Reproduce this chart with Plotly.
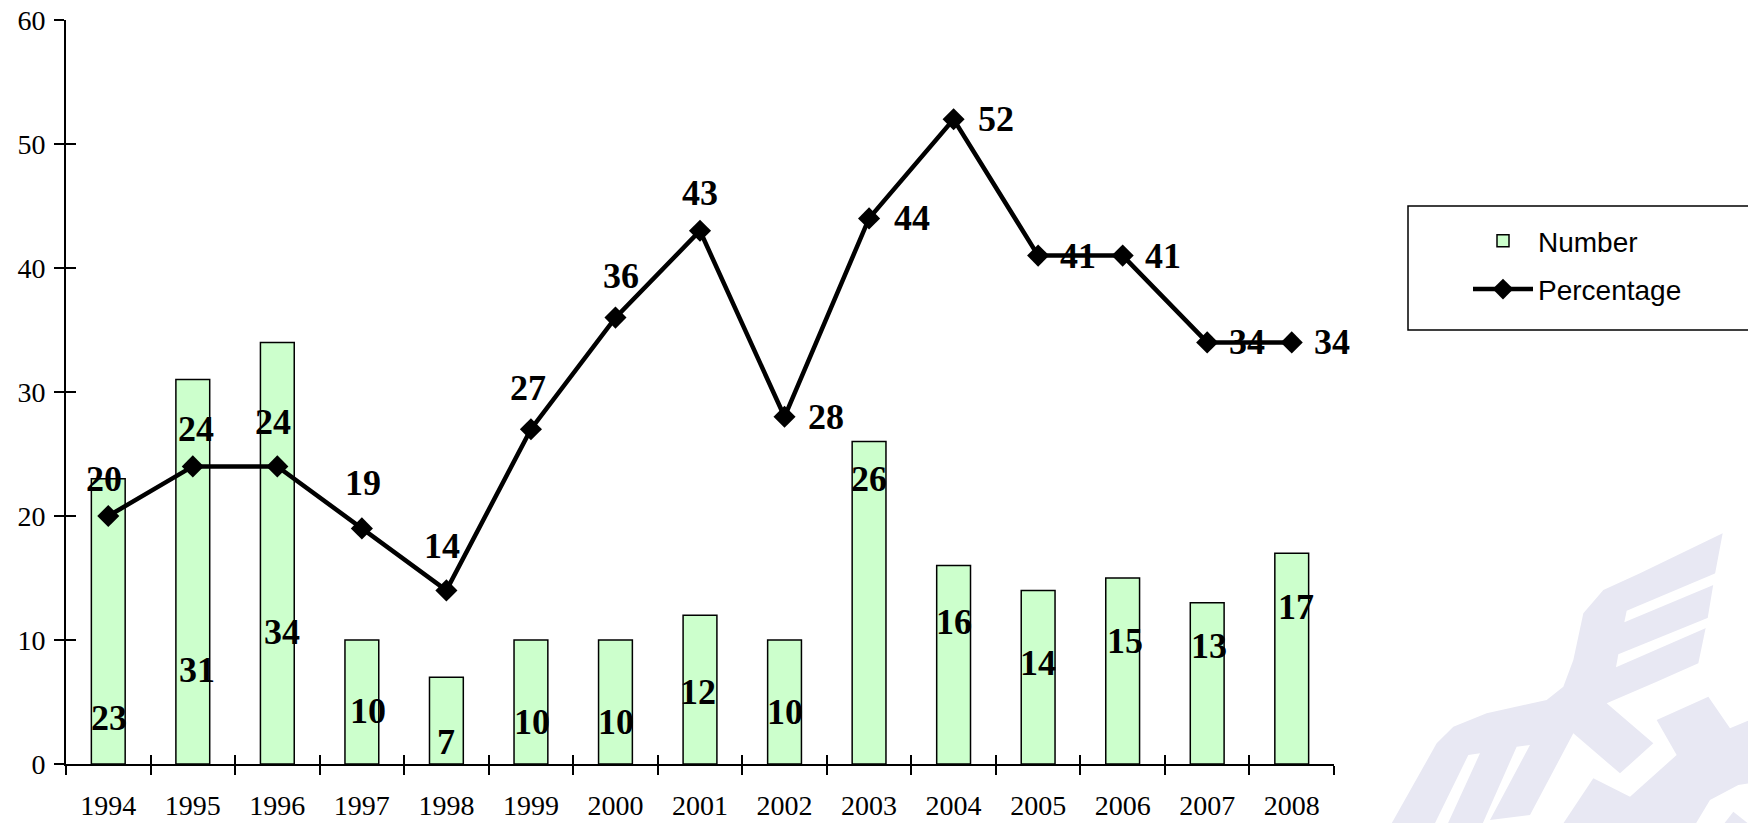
import plotly.graph_objects as go

# ---------------- data ----------------
years = ["1994", "1995", "1996", "1997", "1998", "1999", "2000", "2001",
         "2002", "2003", "2004", "2005", "2006", "2007", "2008"]
number = [23, 31, 34, 10, 7, 10, 10, 12, 10, 26, 16, 14, 15, 13, 17]
percentage = [20, 24, 24, 19, 14, 27, 36, 43, 28, 44, 52, 41, 41, 34, 34]
y_ticks = [0, 10, 20, 30, 40, 50, 60]

# ---------------- label placement (pixels, style only) ----------------
bar_label_dx = [1, 4, 5, 6, 0, 1, 1, -2, 0, 0, 0, 0, 2, 2, 4]
bar_label_dy = [46, 94, 132, 53, 22, 42, 42, 72, 52, 285, 142, 101, 123, 118, 157]
pct_label_dx = [-4, 3, -4, 1, -4, -3, 6, 0, 41, 43, 42, 40, 40, 40, 40]
pct_label_dy = [37, 37, 44, 45, 44, 41, 42, 38, 0, 0, 0, 0, 0, 0, 0]

# page is 1748x823 (body margin removed by the post script below)
OFF = 0
W, H = 1748 - OFF, 823 - OFF
# plot area in page coordinates
PX0, PX1, PY0, PY1 = 66, 1334, 20, 764
ML, MT = PX0 - OFF, PY0 - OFF
MR = W - (PX1 - OFF)
MB = H - (PY1 - OFF)
PW, PH = PX1 - PX0, PY1 - PY0

SERIF = "Liberation Serif, Times New Roman, serif"
SANS = "Liberation Sans, Arial, sans-serif"

fig = go.Figure()
fig.add_trace(go.Bar(
    x=years, y=number, name="Number", width=0.4,
    marker=dict(color="#CCFFCC", line=dict(color="#000000", width=1.5)),
    legendgroup="a",
))
fig.add_trace(go.Scatter(
    x=years, y=percentage, name="Percentage", mode="lines+markers",
    line=dict(color="#000000", width=4.5),
    marker=dict(symbol="diamond", size=17, color="#000000"),
    legendgroup="b",
))
# empty helper trace so the overlay axes (crossing tick marks) are drawn
fig.add_trace(go.Scatter(x=[None], y=[None], xaxis="x2", yaxis="y2",
                         showlegend=False, hoverinfo="skip", mode="markers"))

label_font = dict(family=SERIF, size=36, color="#000000", weight="bold")
ann = []
for i, yr in enumerate(years):
    ann.append(dict(x=i, y=0, xref="x", yref="y", text=str(number[i]),
                    showarrow=False, xanchor="center", yanchor="middle",
                    xshift=bar_label_dx[i], yshift=bar_label_dy[i], font=label_font))
    ann.append(dict(x=i, y=percentage[i], xref="x", yref="y", text=str(percentage[i]),
                    showarrow=False, xanchor="center", yanchor="middle",
                    xshift=pct_label_dx[i], yshift=pct_label_dy[i], font=label_font))

# ---------------- watermark (decorative) ----------------
def page_to_paper(X, Y):
    return (X - PX0) / PW, (PY1 - Y) / PH

def zpt(x, y):
    return page_to_paper(1380 + x / 3.0, 500 + y / 3.0)

def path(pts):
    s = []
    for k, (x, y) in enumerate(pts):
        px, py = zpt(x, y)
        s.append(("M" if k == 0 else "L") + f"{px:.5f},{py:.5f}")
    return " ".join(s) + " Z"

wm = "#E8E8F3"
body = [(1028, 100), (1005, 222), (983, 355), (955, 490), (830, 545), (680, 610),
        (820, 730), (720, 820), (580, 700), (450, 945), (330, 960), (450, 735),
        (410, 740), (295, 1000), (190, 1000), (300, 760), (265, 765), (150, 1000),
        (18, 1000), (170, 730), (220, 680), (320, 640), (500, 600), (550, 560),
        (580, 480), (610, 340), (670, 270), (780, 220)]
right = [(830, 660), (985, 590), (1050, 685), (1110, 660), (1110, 850), (1075, 855),
         (990, 900), (930, 1000), (530, 1000), (640, 835), (750, 890), (890, 765)]
corner = [(1060, 935), (1110, 975), (1110, 1000), (1010, 1000)]
gap1 = [(1010, 218), (740, 332), (733, 367), (1002, 254)]
gap2 = [(988, 352), (715, 463), (708, 502), (978, 384)]

shapes = []
for pts in (body, right, corner):
    shapes.append(dict(type="path", xref="paper", yref="paper", path=path(pts),
                       fillcolor=wm, line=dict(width=0), layer="below"))
for pts in (gap1, gap2):
    shapes.append(dict(type="path", xref="paper", yref="paper", path=path(pts),
                       fillcolor="#FFFFFF", line=dict(width=0), layer="below"))

# legend frame
lx0, ly1 = page_to_paper(1408, 206)
lx1, ly0 = page_to_paper(1765, 330)
shapes.append(dict(type="rect", xref="paper", yref="paper", x0=lx0, x1=lx1, y0=ly0, y1=ly1,
                   line=dict(color="#000000", width=1.5), fillcolor="rgba(0,0,0,0)"))

leg_x, leg_y = page_to_paper(1468, 216)

n = len(years)
boundaries = [k - 0.5 for k in range(n + 1)]

fig.update_layout(
    width=W, height=H,
    margin=dict(l=ML, r=MR, t=MT, b=MB, pad=0, autoexpand=False),
    paper_bgcolor="#FFFFFF", plot_bgcolor="rgba(0,0,0,0)",
    showlegend=True,
    legend=dict(x=leg_x, y=leg_y, xanchor="left", yanchor="top",
                bgcolor="rgba(0,0,0,0)", borderwidth=0, itemwidth=60,
                tracegroupgap=9,
                font=dict(family=SANS, size=28, color="#000000")),
    xaxis=dict(type="category", categoryorder="array", categoryarray=years,
               range=[-0.5, n - 0.5], tickson="boundaries", automargin=False,
               showline=True, linecolor="#000000", linewidth=2,
               ticks="outside", ticklen=9, tickwidth=1.5, tickcolor="#000000",
               ticklabelstandoff=15, ticklabeloverflow="allow",
               tickfont=dict(family=SERIF, size=28, color="#000000"),
               showgrid=False, zeroline=False, fixedrange=True),
    yaxis=dict(range=[0, 60], tickvals=y_ticks, automargin=False,
               showline=True, linecolor="#000000", linewidth=2,
               ticks="outside", ticklen=10, tickwidth=1.5, tickcolor="#000000",
               ticklabelstandoff=3, ticklabeloverflow="allow",
               tickfont=dict(family=SERIF, size=28, color="#000000"),
               showgrid=False, zeroline=False, fixedrange=True),
    xaxis2=dict(overlaying="x", anchor="y", range=[-0.5, n - 0.5], tickvals=boundaries,
                ticks="inside", ticklen=9, tickwidth=1.5, tickcolor="#000000",
                showticklabels=False, showline=False, showgrid=False, zeroline=False,
                side="bottom", automargin=False, fixedrange=True),
    yaxis2=dict(overlaying="y", anchor="x", range=[0, 60], tickvals=y_ticks,
                ticks="inside", ticklen=10, tickwidth=1.5, tickcolor="#000000",
                showticklabels=False, showline=False, showgrid=False, zeroline=False,
                side="left", automargin=False, fixedrange=True),
    annotations=ann,
    shapes=shapes,
)

fig.write_html("out.html",
               config={"displayModeBar": False},
               post_script="document.body.style.margin='0px';"
                           "document.body.style.overflow='hidden';")
